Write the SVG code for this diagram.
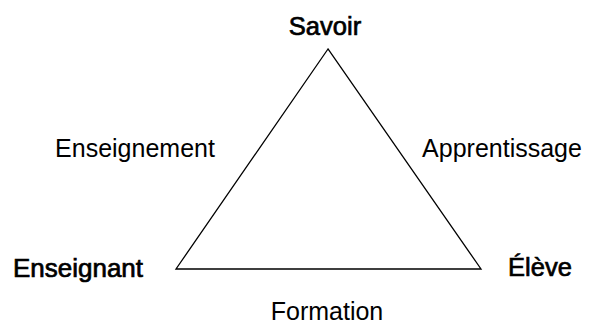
<svg xmlns="http://www.w3.org/2000/svg" width="592" height="325" viewBox="0 0 592 325">
<style>
.t{font-family:"Liberation Sans",Arial,sans-serif;font-size:25px;fill:#000}
.v{font-size:25.5px;stroke:#000;stroke-width:0.7}
.e{fill:none;stroke:#000;stroke-width:1.3}
</style>
<rect width="592" height="325" fill="#fff"/>
<g id="connectors">
<polygon class="e" points="328,49 176,269 481,269"/>
</g>
<g id="savoir"><text class="t v" x="325" y="35" text-anchor="middle">Savoir</text></g>
<g id="enseignant"><text class="t v" x="78" y="277" text-anchor="middle" textLength="130" lengthAdjust="spacingAndGlyphs">Enseignant</text></g>
<g id="eleve"><text class="t v" x="540" y="276" text-anchor="middle">Élève</text></g>
<g id="enseignement"><text class="t" x="135" y="157" text-anchor="middle">Enseignement</text></g>
<g id="apprentissage"><text class="t" x="502" y="157" text-anchor="middle">Apprentissage</text></g>
<g id="formation"><text class="t" x="327" y="320" text-anchor="middle">Formation</text></g>
</svg>
